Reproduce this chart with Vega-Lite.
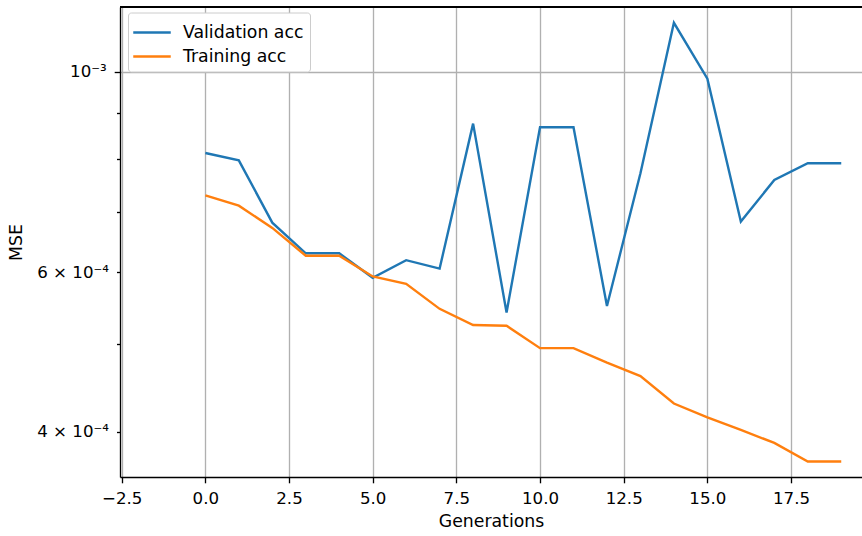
{
  "$schema": "https://vega.github.io/schema/vega-lite/v6.json",
  "width": 742,
  "height": 470,
  "autosize": {"type": "none"},
  "padding": {"left": 120, "top": 7, "right": 0, "bottom": 59},
  "background": "white",
  "config": {
    "view": {"stroke": null},
    "font": "DejaVu Sans",
    "axis": {
      "labelFont": "DejaVu Sans",
      "titleFont": "DejaVu Sans",
      "labelFontSize": 16.67,
      "titleFontSize": 17.3,
      "titleFontWeight": "normal",
      "labelColor": "black",
      "titleColor": "black",
      "domainColor": "black",
      "domainWidth": 1.33,
      "tickColor": "black",
      "tickWidth": 1.33,
      "gridColor": "#b0b0b0",
      "gridWidth": 1.33
    }
  },
  "data": {
    "values": [
      {"gen": 0, "series": "Validation acc", "mse": 0.000813},
      {"gen": 1, "series": "Validation acc", "mse": 0.000798},
      {"gen": 2, "series": "Validation acc", "mse": 0.000681},
      {"gen": 3, "series": "Validation acc", "mse": 0.000630},
      {"gen": 4, "series": "Validation acc", "mse": 0.000630},
      {"gen": 5, "series": "Validation acc", "mse": 0.000592},
      {"gen": 6, "series": "Validation acc", "mse": 0.000619},
      {"gen": 7, "series": "Validation acc", "mse": 0.000606},
      {"gen": 8, "series": "Validation acc", "mse": 0.000876},
      {"gen": 9, "series": "Validation acc", "mse": 0.000542},
      {"gen": 10, "series": "Validation acc", "mse": 0.000868},
      {"gen": 11, "series": "Validation acc", "mse": 0.000868},
      {"gen": 12, "series": "Validation acc", "mse": 0.000551},
      {"gen": 13, "series": "Validation acc", "mse": 0.000772},
      {"gen": 14, "series": "Validation acc", "mse": 0.001132},
      {"gen": 15, "series": "Validation acc", "mse": 0.000982},
      {"gen": 16, "series": "Validation acc", "mse": 0.000683},
      {"gen": 17, "series": "Validation acc", "mse": 0.000759},
      {"gen": 18, "series": "Validation acc", "mse": 0.000792},
      {"gen": 19, "series": "Validation acc", "mse": 0.000792},
      {"gen": 0, "series": "Training acc", "mse": 0.000730},
      {"gen": 1, "series": "Training acc", "mse": 0.000711},
      {"gen": 2, "series": "Training acc", "mse": 0.000672},
      {"gen": 3, "series": "Training acc", "mse": 0.000626},
      {"gen": 4, "series": "Training acc", "mse": 0.000626},
      {"gen": 5, "series": "Training acc", "mse": 0.000594},
      {"gen": 6, "series": "Training acc", "mse": 0.000583},
      {"gen": 7, "series": "Training acc", "mse": 0.000547},
      {"gen": 8, "series": "Training acc", "mse": 0.000525},
      {"gen": 9, "series": "Training acc", "mse": 0.000524},
      {"gen": 10, "series": "Training acc", "mse": 0.000495},
      {"gen": 11, "series": "Training acc", "mse": 0.000495},
      {"gen": 12, "series": "Training acc", "mse": 0.000477},
      {"gen": 13, "series": "Training acc", "mse": 0.000461},
      {"gen": 14, "series": "Training acc", "mse": 0.000430},
      {"gen": 15, "series": "Training acc", "mse": 0.000415},
      {"gen": 16, "series": "Training acc", "mse": 0.000402},
      {"gen": 17, "series": "Training acc", "mse": 0.000389},
      {"gen": 18, "series": "Training acc", "mse": 0.000371},
      {"gen": 19, "series": "Training acc", "mse": 0.000371}
    ]
  },
  "layer": [
    {
      "mark": {"type": "rule", "color": "black", "strokeWidth": 1.33},
      "encoding": {"y": {"datum": 0.0011784}}
    },
    {
      "mark": {"type": "line", "strokeWidth": 2.4, "clip": true},
      "encoding": {
        "x": {
          "field": "gen",
          "type": "quantitative",
          "scale": {"domain": [-2.55, 19.62], "nice": false, "zero": false},
          "axis": {
            "title": "Generations",
            "values": [-2.5, 0, 2.5, 5, 7.5, 10, 12.5, 15, 17.5],
            "format": ".1f",
            "grid": true,
            "tickSize": 5.8,
            "labelPadding": 8,
            "titlePadding": 5,
            "labelFlush": false
          }
        },
        "y": {
          "field": "mse",
          "type": "quantitative",
          "scale": {"type": "log", "domain": [0.0003567, 0.0011784], "nice": false, "zero": false},
          "axis": {
            "title": "MSE",
            "values": [0.0004, 0.0005, 0.0006, 0.0007, 0.0008, 0.0009, 0.001],
            "labelExpr": "abs(datum.value - 0.001) < 1e-9 ? '10⁻³' : abs(datum.value - 0.0006) < 1e-9 ? '6 × 10⁻⁴' : abs(datum.value - 0.0004) < 1e-9 ? '4 × 10⁻⁴' : ''",
            "grid": true,
            "gridOpacity": {"condition": {"test": "abs(datum.value - 0.001) < 1e-9", "value": 1}, "value": 0},
            "tickSize": {"condition": {"test": "abs(datum.value - 0.001) < 1e-9", "value": 5.8}, "value": 3.5},
            "labelPadding": 8,
            "titlePadding": 11,
            "labelFlush": false
          }
        },
        "color": {
          "field": "series",
          "type": "nominal",
          "scale": {"domain": ["Validation acc", "Training acc"], "range": ["#1f77b4", "#ff7f0e"]},
          "legend": {
            "title": null,
            "orient": "none",
            "legendX": 8,
            "legendY": 5.5,
            "direction": "vertical",
            "fillColor": "white",
            "strokeColor": "#cccccc",
            "cornerRadius": 3,
            "padding": 6,
            "symbolType": "M-1.5,0H1.5",
            "symbolSize": 625,
            "symbolOffset": 4,
            "symbolStrokeWidth": 2.4,
            "labelFont": "DejaVu Sans",
            "labelFontSize": 17.3,
            "labelColor": "black",
            "labelOffset": 17,
            "rowPadding": 1
          }
        }
      }
    }
  ]
}
